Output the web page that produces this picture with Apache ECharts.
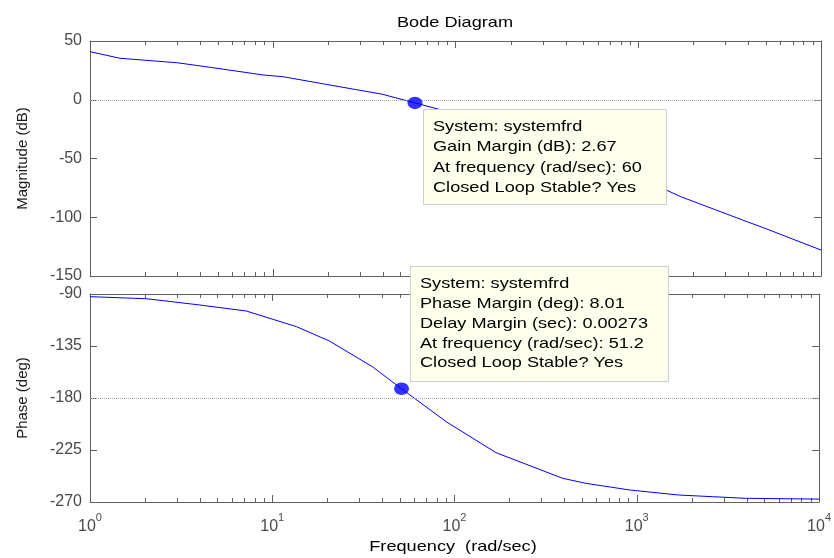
<!DOCTYPE html>
<html>
<head>
<meta charset="utf-8">
<title>Bode Diagram</title>
<script src="https://cdn.jsdelivr.net/npm/echarts@6/dist/echarts.min.js"></script>
<style>
    html, body { margin: 0; padding: 0; background: #fff; }
    #chart { width: 834px; height: 558px; }
</style>
</head>
<body>
<div id="chart"></div>
<script>
// 幅值曲线
const magFreq = [1, 1.46, 3.0, 4.7, 8.85, 11.4, 40, 60, 90, 170, 390, 910, 1420, 1710, 3940, 4880, 10000]
const magDb = [40.9, 35.3, 31.5, 27.3, 21.1, 19.6, 4.6, -2.67, -10, -24, -44, -66, -76.8, -82.5, -103.8, -109.1, -127.9]

// 相位曲线
const phaseFreq = [1, 2.05, 4.0, 7.2, 13.6, 20.6, 35.4, 51.2, 60, 90, 169, 392, 524, 913, 1714, 2600, 3940, 10000]
const phaseDeg = [-92.3, -94.1, -99.5, -104.7, -118.3, -130.7, -152.9, -171.99, -180, -200.5, -227.3, -249.5, -253.8, -259.6, -264, -265.4, -266.8, -267.5]

// 裕度点
const gainMarginPoint = [60, -2.67]
const phaseMarginPoint = [51.2, -171.99]

// 坐标轴刻度
const magTicks = [-150, -100, -50, 0, 50]
const phaseTicks = [-270, -225, -180, -135, -90]
const xTickExp = ['0', '1', '2', '3', '4']
const decades = [1, 10, 100, 1000]
const minorSteps = [2, 3, 4, 5, 6, 7, 8, 9]

// 文本
const gmLines = ['System: systemfrd', 'Gain Margin (dB): 2.67', 'At frequency (rad/sec): 60', 'Closed Loop Stable? Yes']
const pmLines = ['System: systemfrd', 'Phase Margin (deg): 8.01', 'Delay Margin (sec): 0.00273', 'At frequency (rad/sec): 51.2', 'Closed Loop Stable? Yes']

const FONT = '"Liberation Sans", Arial, Helvetica, sans-serif'
const AXIS_COLOR = '#606060'
const LABEL_COLOR = '#4a4a4a'
const STRETCH = 1.21

// 对数轴的次刻度位置
const minorTicks = []
decades.forEach(d => minorSteps.forEach(m => minorTicks.push(d * m)))

const chart = echarts.init(document.getElementById('chart'))

function xAxisCfg(gridIndex, position, showLabel) {
    return {
        type: 'log',
        logBase: 10,
        gridIndex: gridIndex,
        position: position,
        min: 1,
        max: 10000,
        axisLine: { show: true, onZero: false, lineStyle: { color: AXIS_COLOR, width: 1 } },
        axisTick: { show: true, inside: true, length: 7, lineStyle: { color: AXIS_COLOR } },
        splitLine: { show: false },
        axisLabel: {
            show: showLabel,
            margin: 10,
            formatter: v => '{b|10}{s|' + xTickExp[Math.round(Math.log10(v))] + '}',
            rich: {
                b: { fontFamily: FONT, fontSize: 16, color: LABEL_COLOR, lineHeight: 23, verticalAlign: 'bottom' },
                s: { fontFamily: FONT, fontSize: 11, color: LABEL_COLOR, lineHeight: 11, verticalAlign: 'top' }
            }
        }
    }
}

function yAxisCfg(gridIndex, position, ticks, name) {
    return {
        type: 'value',
        gridIndex: gridIndex,
        position: position,
        min: ticks[0],
        max: ticks[ticks.length - 1],
        interval: ticks[1] - ticks[0],
        name: name,
        nameLocation: 'middle',
        nameRotate: 90,
        nameGap: 60,
        nameTextStyle: { fontFamily: FONT, fontSize: 15, color: '#1a1a1a' },
        axisLine: { show: true, onZero: false, lineStyle: { color: AXIS_COLOR, width: 1 } },
        axisTick: { show: true, inside: true, length: 7, lineStyle: { color: AXIS_COLOR } },
        splitLine: { show: false },
        axisLabel: {
            show: position === 'left',
            margin: 8,
            fontFamily: FONT,
            fontSize: 16,
            color: LABEL_COLOR
        }
    }
}

// 次刻度 (顶部和底部向内)
function minorTickSeries(xi, yi, ticks) {
    const yMin = ticks[0]
    const yMax = ticks[ticks.length - 1]
    return {
        type: 'custom',
        xAxisIndex: xi,
        yAxisIndex: yi,
        silent: true,
        clip: false,
        z: 3,
        data: minorTicks.map(f => [f, yMin]),
        encode: { x: 0, y: 1 },
        renderItem: (params, api) => {
            const f = api.value(0)
            const top = api.coord([f, yMax])
            const bot = api.coord([f, yMin])
            const x = Math.round(top[0]) + 0.5
            const style = { stroke: AXIS_COLOR, lineWidth: 1 }
            return {
                type: 'group',
                children: [
                    { type: 'line', shape: { x1: x, y1: top[1], x2: x, y2: top[1] + 4 }, style: style },
                    { type: 'line', shape: { x1: x, y1: bot[1], x2: x, y2: bot[1] - 4 }, style: style }
                ]
            }
        }
    }
}

const refLine = val => ({
    silent: true,
    symbol: 'none',
    label: { show: false },
    lineStyle: { color: '#a8a8a8', type: 'dotted', width: 1 },
    data: [{ yAxis: val }]
})

const ellipse = 'path://M0,5a5,5 0 1,0 10,0a5,5 0 1,0 -10,0z'

const option = {
    animation: false,
    backgroundColor: '#ffffff',
    grid: [
        { left: 90, top: 41, width: 731, height: 235 },
        { left: 90, top: 294, width: 731, height: 208 }
    ],
    xAxis: [
        xAxisCfg(0, 'bottom', false),
        xAxisCfg(0, 'top', false),
        xAxisCfg(1, 'bottom', true),
        xAxisCfg(1, 'top', false)
    ],
    yAxis: [
        yAxisCfg(0, 'left', magTicks, 'Magnitude (dB)'),
        yAxisCfg(0, 'right', magTicks, ''),
        yAxisCfg(1, 'left', phaseTicks, 'Phase (deg)'),
        yAxisCfg(1, 'right', phaseTicks, '')
    ],
    series: [
        {
            type: 'line',
            xAxisIndex: 0,
            yAxisIndex: 0,
            data: magFreq.map((f, i) => [f, magDb[i]]),
            showSymbol: false,
            lineStyle: { color: '#0000ff', width: 1 },
            markLine: refLine(0),
            z: 4
        },
        {
            type: 'line',
            xAxisIndex: 2,
            yAxisIndex: 2,
            data: phaseFreq.map((f, i) => [f, phaseDeg[i]]),
            showSymbol: false,
            lineStyle: { color: '#0000ff', width: 1 },
            markLine: refLine(-180),
            z: 4
        },
        {
            type: 'scatter',
            xAxisIndex: 0,
            yAxisIndex: 0,
            data: [gainMarginPoint],
            symbol: ellipse,
            symbolSize: [15, 12.5],
            itemStyle: { color: '#0000ff' },
            z: 5
        },
        {
            type: 'scatter',
            xAxisIndex: 2,
            yAxisIndex: 2,
            data: [phaseMarginPoint],
            symbol: ellipse,
            symbolSize: [15, 12.5],
            itemStyle: { color: '#0000ff' },
            z: 5
        },
        minorTickSeries(0, 0, magTicks),
        minorTickSeries(2, 2, phaseTicks)
    ]
}

chart.setOption(option)

// 数据提示框 (跟随裕度点的位置)
function tipBox(left, top, w, h, lines, lineGap) {
    const children = [{
        type: 'rect',
        z: 100,
        shape: { x: 0, y: 0, width: w, height: h },
        style: { fill: '#ffffed', stroke: '#cfcfcf', lineWidth: 1 }
    }]
    lines.forEach((t, i) => {
        children.push({
            type: 'text',
            z: 101,
            x: 9.5,
            y: 17.5 + i * lineGap,
            scaleX: STRETCH,
            style: { text: t, x: 0, y: 0, fill: '#000', font: '15px ' + FONT, verticalAlign: 'middle', align: 'left' }
        })
    })
    return { type: 'group', x: left, y: top, z: 100, children: children }
}

const gmPx = chart.convertToPixel({ gridIndex: 0 }, gainMarginPoint)
const pmPx = chart.convertToPixel({ gridIndex: 1 }, phaseMarginPoint)

chart.setOption({
    graphic: [
        tipBox(Math.round(gmPx[0] + 8) + 0.5, Math.round(gmPx[1] + 6) + 0.5, 243, 95, gmLines, 20.3),
        tipBox(Math.round(pmPx[0] + 8) + 0.5, Math.round(pmPx[1] - 123) + 0.5, 258, 115, pmLines, 19.8),
        {
            type: 'text',
            x: 455,
            y: 23,
            scaleX: STRETCH,
            z: 100,
            style: { text: 'Bode Diagram', x: 0, y: 0, fill: '#000', font: '15px ' + FONT, align: 'center', verticalAlign: 'middle' }
        },
        {
            type: 'text',
            x: 453,
            y: 547,
            scaleX: STRETCH,
            z: 100,
            style: { text: 'Frequency  (rad/sec)', x: 0, y: 0, fill: '#000', font: '15px ' + FONT, align: 'center', verticalAlign: 'middle' }
        }
    ]
})

window.addEventListener('resize', () => {
    chart.resize()
})
</script>
</body>
</html>
